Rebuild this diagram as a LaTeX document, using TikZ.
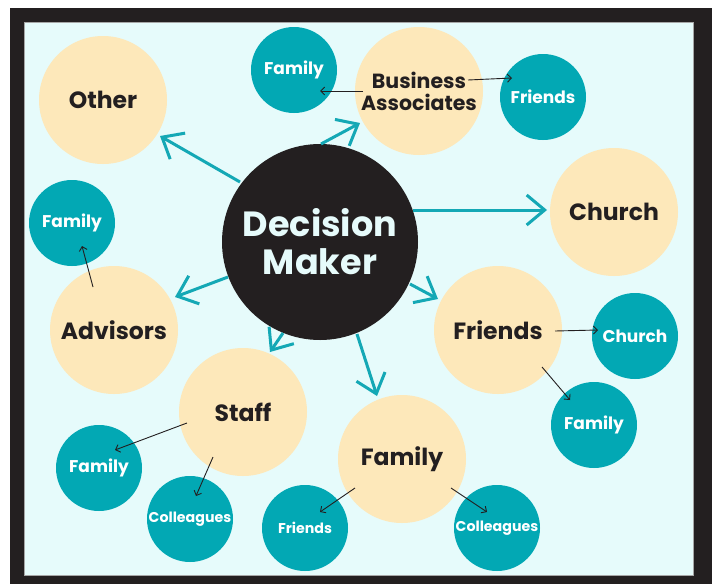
\documentclass[tikz,border=0pt]{standalone}
\usepackage{fontspec}
\setmainfont{Poppins}
\usetikzlibrary{arrows.meta,calc}
\definecolor{bgcyan}{HTML}{E6FBFB}
\definecolor{peach}{HTML}{FDE8BA}
\definecolor{tealc}{HTML}{02A8B4}
\definecolor{darkc}{HTML}{231F20}
\definecolor{arrowteal}{HTML}{14A8B5}
\tikzset{
  peachnode/.style={circle,fill=peach,minimum size=128pt,inner sep=0pt,outer sep=0pt,text=darkc,font=\bfseries\fontsize{23.5}{22}\selectfont,align=center},
  tealnode/.style={circle,fill=tealc,minimum size=86pt,inner sep=0pt,outer sep=0pt,text=white,font=\bfseries\fontsize{17}{20}\selectfont,align=center},
  smallteal/.style={tealnode,font=\bfseries\fontsize{14.2}{16}\selectfont},
  dmnode/.style={circle,fill=darkc,minimum size=196pt,inner sep=0pt,outer sep=0pt,text=bgcyan,font=\bfseries\fontsize{35}{38}\selectfont,align=center},
  bigarrow/.style={draw=arrowteal,line width=3pt,-{Straight Barb[length=18pt,width=30pt,line width=3pt]}},
  thinarrow/.style={draw=darkc,line width=0.9pt,-{Straight Barb[length=4pt,width=8pt,line width=0.9pt]}}
}
\begin{document}
\begin{tikzpicture}[x=1pt,y=-1pt]
\useasboundingbox (0,0) rectangle (712,584);
\fill[white] (0,0) rectangle (712,584);
\fill[darkc] (10,8) rectangle (712,584);
\filldraw[fill=bgcyan,draw=gray!70,line width=0.8pt] (24,22) rectangle (693,575);
% nodes
\node[peachnode] (other) at (103,100) {Other};
\node[tealnode] (famtop) at (294,70) {Family};
\node[peachnode,font=\bfseries\fontsize{20.5}{22}\selectfont] (ba) at (419,91) {Business\\Associates};
\node[tealnode] (friendstop) at (543,97) {Friends};
\node[peachnode] (church) at (614,212) {Church};
\node[tealnode] (famleft) at (72,223) {Family};
\node[dmnode] (dm) at (320,242) {Decision\\Maker};
\node[peachnode] (adv) at (114,330) {Advisors};
\node[peachnode] (friends) at (498,330) {Friends};
\node[tealnode] (churchteal) at (635,336) {Church};
\node[peachnode] (staff) at (243,412) {Staff};
\node[tealnode] (famright) at (594,425) {Family};
\node[peachnode] (fampeach) at (402,459) {Family};
\node[tealnode] (famstaff) at (99,468) {Family};
\node[smallteal] (collstaff) at (190,519) {Colleagues};
\node[smallteal] (friendsbot) at (305,528) {Friends};
\node[smallteal] (collbot) at (497,528) {Colleagues};
% teal arrows
\draw[bigarrow] ($(dm)+(-80,-60)$) -- ($(other)+(57,36)$);
\draw[bigarrow] ($(dm)+(1,-98)$) -- ($(ba)+(-59,32)$);
\draw[bigarrow] ($(dm)+(93,-32)$) -- ($(church)+(-67,-2)$);
\draw[bigarrow] ($(dm)+(-92,35)$) -- ($(adv)+(61,-33)$);
\draw[bigarrow] ($(dm)+(-37,91)$) -- ($(staff)+(27,-60)$);
\draw[bigarrow] ($(dm)+(37,92)$) -- ($(fampeach)+(-25,-63)$);
\draw[bigarrow] ($(dm)+(90,42)$) -- ($(friends)+(-60,-31)$);
% thin arrows
\draw[thinarrow] ($(ba)+(-56,0)$) -- ($(famtop)+(26,21)$);
\draw[thinarrow] ($(ba)+(49,-11)$) -- ($(friendstop)+(-31,-19)$);
\draw[thinarrow] ($(adv)+(-21,-43)$) -- ($(famleft)+(10,23)$);
\draw[thinarrow] ($(staff)+(-56,11)$) -- ($(famstaff)+(16,-18)$);
\draw[thinarrow] ($(staff)+(-30,45)$) -- ($(collstaff)+(6,-23)$);
\draw[thinarrow] ($(fampeach)+(-47,29)$) -- ($(friendsbot)+(15,-16)$);
\draw[thinarrow] ($(fampeach)+(49,29)$) -- ($(collbot)+(-10,-16)$);
\draw[thinarrow] ($(friends)+(57,1)$) -- ($(churchteal)+(-37,-6)$);
\draw[thinarrow] ($(friends)+(44,37)$) -- ($(famright)+(-24,-25)$);
\end{tikzpicture}
\end{document}
